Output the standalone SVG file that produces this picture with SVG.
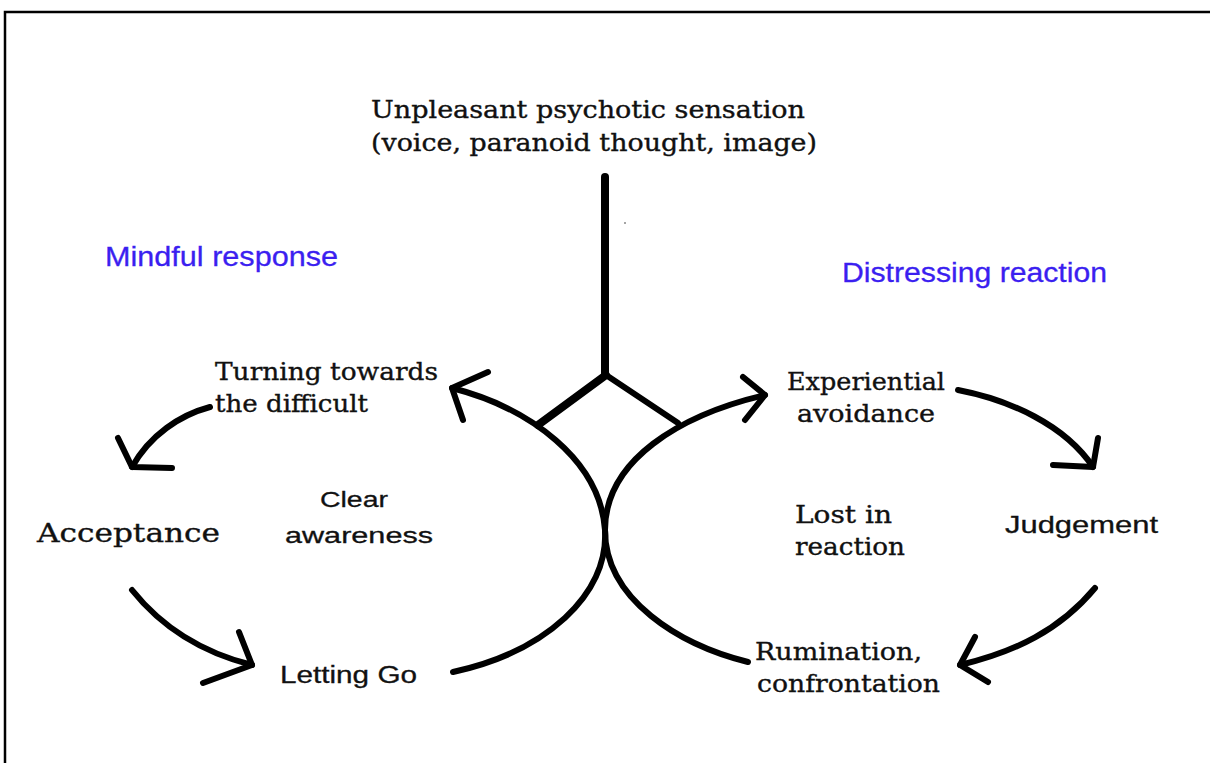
<svg xmlns="http://www.w3.org/2000/svg" width="1210" height="763" viewBox="0 0 1210 763">
<style>
.ln{fill:none;stroke:#000;stroke-linecap:round;stroke-linejoin:round}
.serif{font-family:"DejaVu Serif","Liberation Serif",serif;fill:#111;stroke:#111;stroke-width:0.35}
.sans{font-family:"Liberation Sans",Arial,sans-serif;fill:#111;stroke:#111;stroke-width:0.3}
.blue{font-family:"Liberation Sans",Arial,sans-serif;fill:#3b1ff0;stroke:#3b1ff0;stroke-width:0.3}
</style>
<rect width="1210" height="763" fill="#fff"/>
<path d="M5,763 V12 H1210" fill="none" stroke="#000" stroke-width="2.5"/>
<g id="connectors">
<path class="ln" d="M605,177 V375" stroke-width="8" stroke-linecap="butt"/>
<path class="ln" d="M538,425 L606,375" stroke-width="8"/>
<path class="ln" d="M606,375 L678,423" stroke-width="6"/>
<path class="ln" d="M452,388 C530,408 600,460 605,530 C609,595 545,652 453,672" stroke-width="6"/>
<path class="ln" d="M765,395 C680,415 605,460 605,530 C605,600 680,645 748,662" stroke-width="6"/>
<polyline class="ln" points="488,372 452,388 463,420" stroke-width="6"/>
<polyline class="ln" points="743,377 765,395 745,420" stroke-width="6"/>
<path class="ln" d="M210,407 C180,415 150,435 132,467" stroke-width="6"/>
<polyline class="ln" points="118,438 132,467 172,468" stroke-width="6"/>
<path class="ln" d="M132,590 C160,625 200,652 252,665" stroke-width="6"/>
<polyline class="ln" points="239,632 252,665 203,683" stroke-width="6"/>
<path class="ln" d="M958,390 C1010,400 1065,425 1093,467" stroke-width="6"/>
<polyline class="ln" points="1098,438 1093,467 1053,465" stroke-width="6"/>
<path class="ln" d="M1095,588 C1060,630 1015,652 960,665" stroke-width="6"/>
<polyline class="ln" points="975,637 960,665 988,682" stroke-width="6"/>
<circle cx="625" cy="223" r="0.8" fill="#333"/>
</g>
<g id="source">
<text class="serif" x="371" y="118" font-size="24" textLength="434" lengthAdjust="spacingAndGlyphs">Unpleasant psychotic sensation</text>
<text class="serif" x="371" y="151" font-size="24" textLength="446" lengthAdjust="spacingAndGlyphs">(voice, paranoid thought, image)</text>
</g>
<g id="mindful-response"><text class="blue" x="105" y="266" font-size="28" textLength="233" lengthAdjust="spacingAndGlyphs">Mindful response</text></g>
<g id="distressing-reaction"><text class="blue" x="842" y="282" font-size="27" textLength="265" lengthAdjust="spacingAndGlyphs">Distressing reaction</text></g>
<g id="turning">
<text class="serif" x="215" y="380" font-size="24" textLength="223" lengthAdjust="spacingAndGlyphs">Turning towards</text>
<text class="serif" x="215" y="412" font-size="24" textLength="153" lengthAdjust="spacingAndGlyphs">the difficult</text>
</g>
<g id="acceptance"><text class="serif" x="37" y="542" font-size="26" textLength="183" lengthAdjust="spacingAndGlyphs">Acceptance</text></g>
<g id="clear-awareness">
<text class="sans" x="320" y="507" font-size="22" textLength="68" lengthAdjust="spacingAndGlyphs">Clear</text>
<text class="sans" x="285" y="543" font-size="22" textLength="148" lengthAdjust="spacingAndGlyphs">awareness</text>
</g>
<g id="letting-go"><text class="sans" x="280" y="683" font-size="23" textLength="137" lengthAdjust="spacingAndGlyphs">Letting Go</text></g>
<g id="experiential-avoidance">
<text class="serif" x="787" y="390" font-size="24" textLength="158" lengthAdjust="spacingAndGlyphs">Experiential</text>
<text class="serif" x="797" y="422" font-size="24" textLength="138" lengthAdjust="spacingAndGlyphs">avoidance</text>
</g>
<g id="lost-in-reaction">
<text class="serif" x="795" y="523" font-size="24" textLength="97" lengthAdjust="spacingAndGlyphs">Lost in</text>
<text class="serif" x="795" y="555" font-size="24" textLength="110" lengthAdjust="spacingAndGlyphs">reaction</text>
</g>
<g id="judgement"><text class="sans" x="1005" y="533" font-size="24" textLength="153" lengthAdjust="spacingAndGlyphs">Judgement</text></g>
<g id="rumination">
<text class="serif" x="755" y="660" font-size="24" textLength="167" lengthAdjust="spacingAndGlyphs">Rumination,</text>
<text class="serif" x="757" y="692" font-size="24" textLength="183" lengthAdjust="spacingAndGlyphs">confrontation</text>
</g>
</svg>
